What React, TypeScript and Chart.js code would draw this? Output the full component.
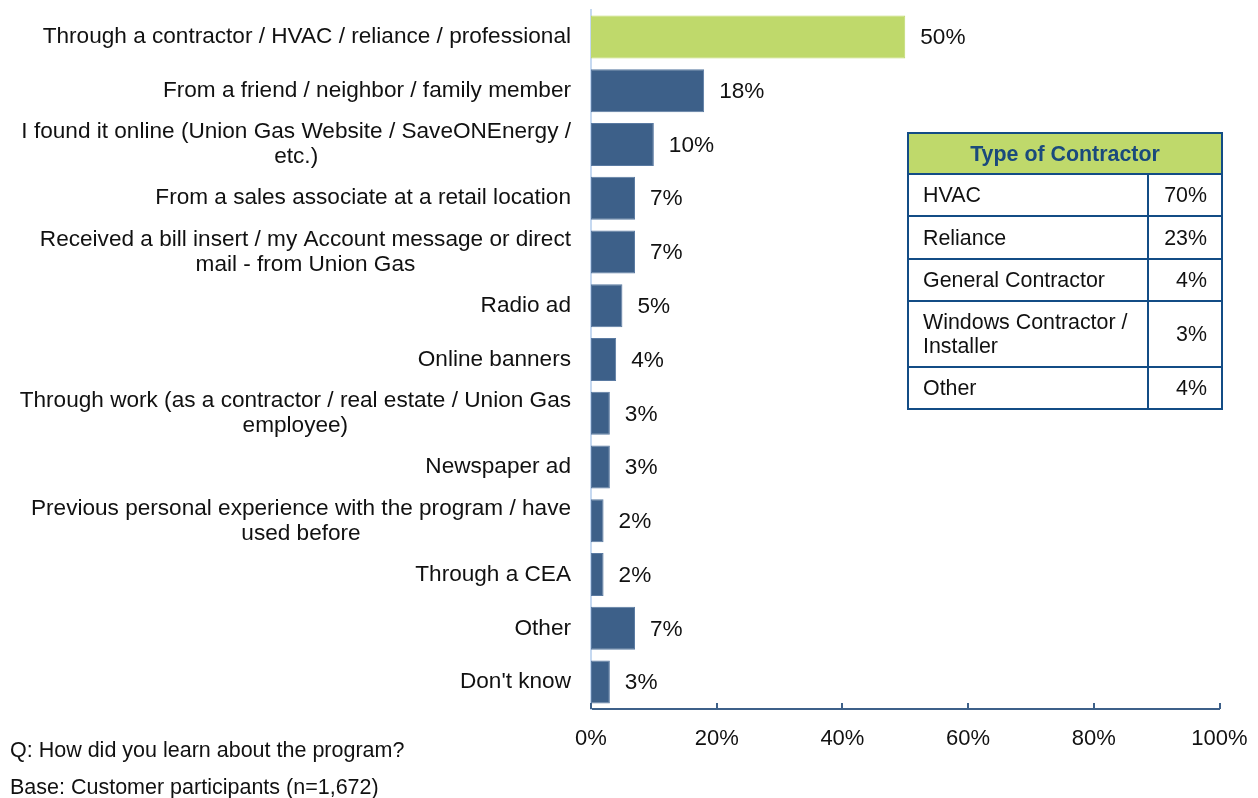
import React, { useEffect, useRef } from "react";
import { Chart, registerables } from "chart.js";

Chart.register(...registerables);

const categories: string[][] = [
  ["Through a contractor / HVAC / reliance / professional"],
  ["From a friend / neighbor / family member"],
  ["I found it online (Union Gas Website / SaveONEnergy /", "etc.)"],
  ["From a sales associate at a retail location"],
  ["Received a bill insert / my Account message or direct", "mail - from Union Gas"],
  ["Radio ad"],
  ["Online banners"],
  ["Through work (as a contractor / real estate / Union Gas", "employee)"],
  ["Newspaper ad"],
  ["Previous personal experience with the program / have", "used before"],
  ["Through a CEA"],
  ["Other"],
  ["Don't know"],
];

const values: number[] = [50, 18, 10, 7, 7, 5, 4, 3, 3, 2, 2, 7, 3];

const xTicks: number[] = [0, 20, 40, 60, 80, 100];

const contractorTypes: string[][] = [
  ["HVAC"],
  ["Reliance"],
  ["General Contractor"],
  ["Windows Contractor /", "Installer"],
  ["Other"],
];
const contractorShares: number[] = [70, 23, 4, 3, 4];

const FONT = '"Liberation Sans", Arial, sans-serif';
const GREEN = "#bfd96b";
const BLUE = "#3d6089";
const NAVY = "#134c85";

const labelsPlugin = {
  id: "customLabels",
  afterDraw(chart: any) {
    const ctx = chart.ctx;
    const y = chart.scales.y;
    const x = chart.scales.x;
    ctx.save();
    // category labels: block right-aligned, lines centered within block
    ctx.font = `22.6px ${FONT}`;
    ctx.fillStyle = "#111";
    ctx.textBaseline = "middle";
    ctx.textAlign = "center";
    const lh = 25;
    categories.forEach((lines, i) => {
      const cy = y.getPixelForValue(i);
      const maxW = Math.max(...lines.map((l) => ctx.measureText(l).width));
      const cx = 571 - maxW / 2;
      lines.forEach((l, j) => {
        ctx.fillText(l, cx, cy + (j - (lines.length - 1) / 2) * lh);
      });
    });
    // value labels
    ctx.textAlign = "left";
    const meta = chart.getDatasetMeta(0);
    meta.data.forEach((bar: any, i: number) => {
      ctx.fillText(values[i] + "%", bar.x + 15, bar.y + 1);
    });
    // x-axis inward tick marks
    ctx.strokeStyle = BLUE;
    ctx.lineWidth = 2;
    const ay = x.top;
    xTicks.forEach((t) => {
      const px = Math.round(x.getPixelForValue(t));
      ctx.beginPath();
      ctx.moveTo(px, ay);
      ctx.lineTo(px, ay - 6);
      ctx.stroke();
    });
    ctx.restore();
  },
};

function BarChart() {
  const ref = useRef<HTMLCanvasElement | null>(null);
  useEffect(() => {
    if (!ref.current) return;
    const chart = new Chart(ref.current, {
      type: "bar",
      data: {
        labels: categories.map((c) => c.join(" ")),
        datasets: [
          {
            data: values,
            backgroundColor: values.map((_, i) => (i === 0 ? GREEN : BLUE)),
            borderColor: values.map((_, i) => (i === 0 ? GREEN : "#5a7aa2")),
            borderWidth: 1,
            borderSkipped: false,
            categoryPercentage: 1,
            barPercentage: 0.8,
          },
        ],
      },
      options: {
        indexAxis: "y",
        animation: false,
        responsive: false,
        maintainAspectRatio: false,
        layout: { padding: { left: 0, top: 10, right: 38.5, bottom: 0 } },
        plugins: {
          legend: { display: false },
          tooltip: { enabled: false },
        },
        scales: {
          x: {
            min: 0,
            max: 100,
            afterBuildTicks: (s: any) => {
              s.ticks = xTicks.map((v) => ({ value: v }));
            },
            afterFit: (s: any) => {
              s.height = 798 - 709;
              s.paddingLeft = 0;
              s.paddingRight = 0;
            },
            grid: { display: false, drawTicks: false },
            border: { display: true, color: BLUE, width: 2 },
            ticks: {
              padding: 17,
              color: "#111",
              font: { family: FONT, size: 22 },
              callback: (v: any) => v + "%",
            },
          },
          y: {
            afterFit: (s: any) => {
              s.width = 591;
            },
            grid: { display: false, drawTicks: false },
            border: { display: true, color: "#c6d9f1", width: 2 },
            ticks: { display: false },
          },
        },
      },
      plugins: [labelsPlugin],
    });
    return () => chart.destroy();
  }, []);
  return <canvas ref={ref} width={1258} height={798} style={{ position: "absolute", left: 0, top: 0 }} />;
}

export default function App() {
  const cell: React.CSSProperties = {
    border: `2px solid ${NAVY}`,
    padding: "0 14px",
    fontSize: 21.4,
    lineHeight: "24px",
    color: "#111",
  };
  const rowH = [42, 43, 42, 66, 42];
  return (
    <div style={{ position: "fixed", left: 0, top: 0, width: 1258, height: 798, background: "#fff", fontFamily: FONT }}>
      <BarChart />
      <table
        style={{
          position: "absolute",
          left: 907,
          top: 132,
          width: 316,
          borderCollapse: "collapse",
          fontFamily: FONT,
        }}
      >
        <tbody>
          <tr style={{ height: 41 }}>
            <td
              colSpan={2}
              style={{
                ...cell,
                background: GREEN,
                color: "#1a4a7c",
                fontWeight: "bold",
                textAlign: "center",
              }}
            >
              Type of Contractor
            </td>
          </tr>
          {contractorTypes.map((t, i) => (
            <tr key={i} style={{ height: rowH[i] }}>
              <td style={{ ...cell, width: 210, whiteSpace: "nowrap" }}>
                {t.map((l, j) => (
                  <div key={j}>{l}</div>
                ))}
              </td>
              <td style={{ ...cell, textAlign: "right" }}>{contractorShares[i]}%</td>
            </tr>
          ))}
        </tbody>
      </table>
      <div style={{ position: "absolute", left: 10, top: 738, fontSize: 21.5, color: "#111", lineHeight: "24px", whiteSpace: "nowrap" }}>
        Q: How did you learn about the program?
      </div>
      <div style={{ position: "absolute", left: 10, top: 775, fontSize: 21.5, color: "#111", lineHeight: "24px", whiteSpace: "nowrap" }}>
        Base: Customer participants (n=1,672)
      </div>
    </div>
  );
}
